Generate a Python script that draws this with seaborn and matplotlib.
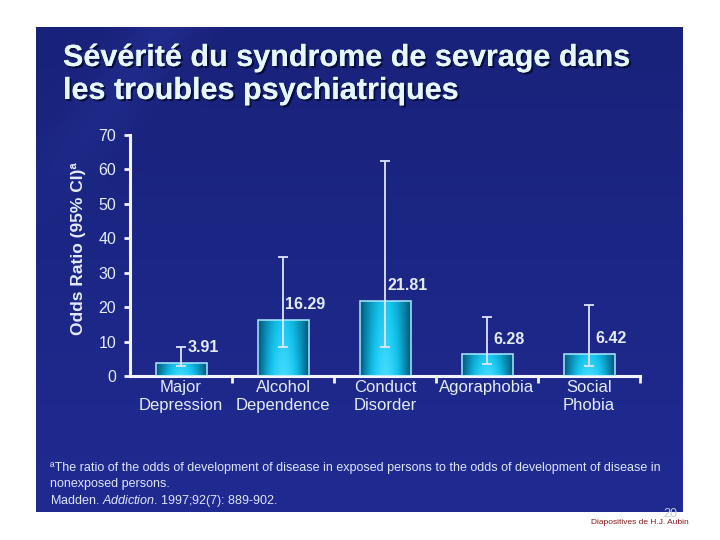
import numpy as np
import pandas as pd
import seaborn as sns
import matplotlib.pyplot as plt
import matplotlib.patheffects as pe
from matplotlib.colors import LinearSegmentedColormap

# Data
categories = ["Major\nDepression", "Alcohol\nDependence", "Conduct\nDisorder",
              "Agoraphobia", "Social\nPhobia"]
odds_ratio = [3.91, 16.29, 21.81, 6.28, 6.42]
ci_low = [2.9, 8.5, 8.5, 3.5, 2.9]
ci_high = [8.5, 34.5, 62.4, 17.2, 20.5]
value_labels = ["3.91", "16.29", "21.81", "6.28", "6.42"]
y_ticks = [0, 10, 20, 30, 40, 50, 60, 70]

title_lines = ["Sévérité du syndrome de sevrage dans", "les troubles psychiatriques"]
y_label = "Odds Ratio (95% CI)ª"
footnote = ["ªThe ratio of the odds of development of disease in exposed persons to the odds of development of disease in",
            "nonexposed persons.",
            r"Madden. $\it{Addiction}$. 1997;92(7): 889-902."]

TEXT = "#e4ebff"
LINE = "#f2f4ff"

sns.set_theme(style="white")
plt.rcParams["font.family"] = ["Liberation Sans", "DejaVu Sans"]
plt.rcParams["mathtext.fontset"] = "custom"
plt.rcParams["mathtext.rm"] = "Liberation Sans"
plt.rcParams["mathtext.it"] = "Liberation Sans:italic"

fig = plt.figure(figsize=(7.2, 5.4), dpi=100)
fig.patch.set_facecolor("white")

# slide background (navy with a faint lighter streak)
bg = fig.add_axes([36 / 720, 1 - 512 / 540, 647 / 720, 485 / 540])
bg.set_axis_off()
yy, xx = np.mgrid[0:1:240j, 0:1:300j]
top = np.array([25, 34, 122]) / 255
bottom = np.array([31, 43, 145]) / 255
img = top[None, None, :] * (1 - yy[..., None]) + bottom[None, None, :] * yy[..., None]
streak = np.exp(-((xx + yy * 0.55 - 0.2) / 0.06) ** 2) * np.clip(1 - yy / 0.45, 0, 1)
img = img + streak[..., None] * np.array([7, 9, 16]) / 255
bg.imshow(np.clip(img, 0, 1), aspect="auto", extent=[0, 1, 0, 1], interpolation="bilinear")

ax = fig.add_axes([130 / 720, 1 - 376 / 540, 510 / 720, 241 / 540])
ax.set_facecolor("none")

df = pd.DataFrame({"category": categories, "odds": odds_ratio})
sns.barplot(data=df, x="category", y="odds", width=0.5, errorbar=None, ax=ax)

# cyan gradient fill inside each bar
cmap_bar = LinearSegmentedColormap.from_list("bar", ["#06557a", "#0a8cb3", "#15c3ec", "#43dcff"])
U, W = np.meshgrid(np.linspace(0, 1, 80), np.linspace(0, 1, 80))
shade = (1 - np.abs(2 * U - 1) ** 1.6) * (0.7 + 0.3 * (1 - W))
for bar in ax.patches:
    x0, y0 = bar.get_x(), bar.get_y()
    im = ax.imshow(shade, extent=[x0, x0 + bar.get_width(), y0, y0 + bar.get_height()],
                   origin="lower", cmap=cmap_bar, vmin=0, vmax=1, aspect="auto",
                   interpolation="bilinear", zorder=2)
    im.set_clip_path(bar)
    bar.set_facecolor("none")
    bar.set_edgecolor("#a8ecff")
    bar.set_linewidth(1.1)
    bar.set_zorder(3)

xpos = np.arange(len(categories))
lower = np.array(odds_ratio) - np.array(ci_low)
upper = np.array(ci_high) - np.array(odds_ratio)
ax.errorbar(xpos, odds_ratio, yerr=[lower, upper], fmt="none", ecolor="#dde4ff",
            elinewidth=1.3, capsize=3.5, capthick=1.3, zorder=4)

for i, (v, lbl) in enumerate(zip(odds_ratio, value_labels)):
    ax.annotate(lbl, (i + 0.22, v), xytext=(0, 11), textcoords="offset points",
                ha="center", va="center", fontsize=11.5, fontweight="bold", color=TEXT)

ax.set_xlim(-0.5, 4.5)
ax.set_ylim(0, 70)
ax.set_yticks(y_ticks)
ax.set_xticks(xpos)
ax.set_xticklabels(categories, linespacing=1.25)
ax.set_xticks(np.arange(0.5, 5, 1), minor=True)
ax.set_xlabel("")
ax.set_ylabel(y_label, fontsize=12.5, fontweight="bold", color=TEXT)
ax.yaxis.set_label_coords(-0.086, 0.53)

for side in ["top", "right"]:
    ax.spines[side].set_visible(False)
for side in ["left", "bottom"]:
    ax.spines[side].set_color(LINE)
    ax.spines[side].set_linewidth(2.2)
ax.tick_params(axis="x", which="major", length=0, pad=3, labelsize=12, labelcolor=TEXT)
ax.tick_params(axis="x", which="minor", bottom=True, direction="out", length=5, width=2, color=LINE)
ax.tick_params(axis="y", left=True, direction="out", length=4, width=2, color=LINE,
               pad=6, labelsize=11.5, labelcolor=TEXT)

# title with drop shadow
shadow = [pe.withSimplePatchShadow(offset=(1.5, -1.5), shadow_rgbFace="#070b35", alpha=0.9), pe.Normal()]
fig.text(63 / 720, 1 - 66 / 540, title_lines[0], fontsize=22, fontweight="bold",
         color="#e6f7ff", va="baseline", path_effects=shadow)
fig.text(63 / 720, 1 - 99 / 540, title_lines[1], fontsize=22, fontweight="bold",
         color="#e6f7ff", va="baseline", path_effects=shadow)

for k, line in enumerate(footnote):
    fig.text(50 / 720, 1 - (468 + 16.5 * k) / 540, line, fontsize=9, color="#dfe5ff", va="center")

fig.text(670 / 720, 1 - 514 / 540, "20", fontsize=9, color="#c4c9d6", ha="center", va="center")
fig.text(640 / 720, 1 - 523 / 540, "Diapositives de H.J. Aubin", fontsize=6, color="#8b1a1a",
         ha="center", va="center")

fig.savefig("out.png", dpi=100)
